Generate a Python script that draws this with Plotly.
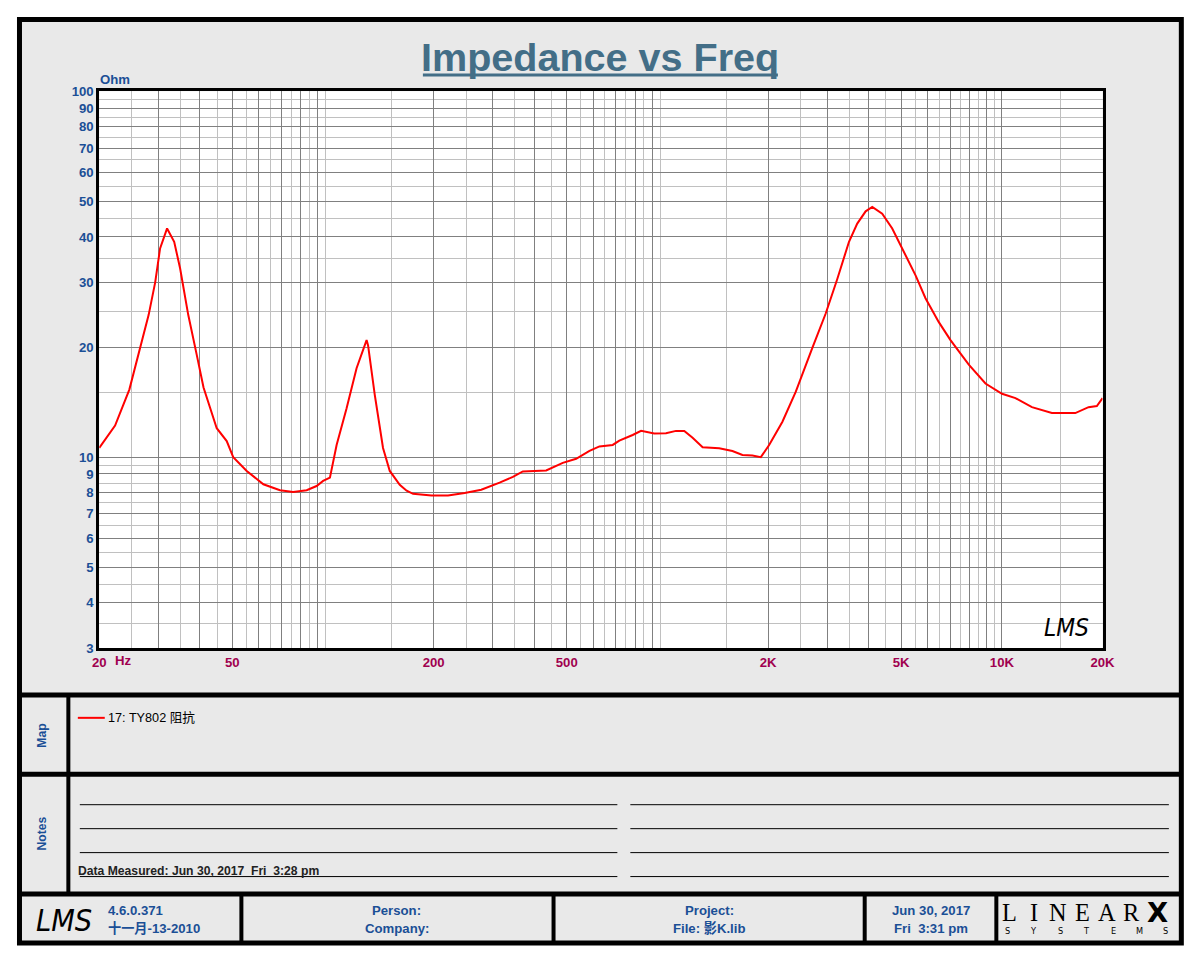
import numpy as np
import plotly.graph_objects as go

# impedance curve (Hz, Ohm)
freq_hz = [20, 22.3, 24.6, 26.5, 28.1, 29.4, 30.4, 31.9, 33.5, 34.9, 36.9, 39.1,
           41.0, 44.9, 48.1, 50.3, 55.2, 61.9, 69.4, 76.0, 83.4, 89.3, 93.4, 97.9,
           102.5, 109.8, 117.6, 126.0, 127.3, 133.3, 141.1, 147.8, 158.3, 166,
           173.5, 196.9, 220.7, 247.5, 277.5, 314.8, 345, 369.5, 433.9, 486.4,
           533.3, 584.6, 626, 686, 718, 787, 834, 913, 990, 1060, 1123, 1189,
           1274, 1428, 1564, 1676, 1795, 1902, 2014, 2207, 2420, 2712, 2973,
           3220, 3490, 3694, 3914, 4097, 4387, 4700, 5033, 5520, 5910, 6478,
           7020, 7962, 8932, 10010, 10980, 12300, 14110, 16580, 18160, 19230, 20000]
impedance_ohm = [10.6, 12.2, 15.3, 19.9, 24.5, 30.1, 37.2, 42.2, 38.8, 32.8, 24.5, 19.1,
                 15.5, 12.0, 11.07, 10.0, 9.17, 8.43, 8.12, 8.03, 8.12, 8.34, 8.61, 8.79,
                 10.8, 13.6, 17.5, 20.9, 20.2, 14.8, 10.6, 9.17, 8.4, 8.1,
                 7.94, 7.86, 7.86, 7.98, 8.15, 8.52, 8.83, 9.14, 9.2, 9.65,
                 9.9, 10.4, 10.7, 10.8, 11.1, 11.5, 11.8, 11.6, 11.63, 11.8, 11.8, 11.3,
                 10.65, 10.58, 10.4, 10.14, 10.1, 10.0, 10.8, 12.5, 15.1, 19.9, 24.7,
                 30.7, 38.8, 43.5, 47.0, 48.3, 46.3, 42.2, 37.2, 31.4, 27.2, 23.4,
                 20.9, 17.9, 15.9, 14.9, 14.5, 13.7, 13.2, 13.2, 13.7, 13.8, 14.5]

x_labels = {20: "20", 50: "50", 100: "100", 200: "200", 500: "500",
            1000: "1K", 2000: "2K", 5000: "5K", 10000: "10K", 20000: "20K"}
y_labels = [3, 4, 5, 6, 7, 8, 9, 10, 20, 30, 40, 50, 60, 70, 80, 90, 100]

# grid: dark lines at 1..9 x decade, light lines at the halves
x_major = [m * d for d in [10, 100, 1000] for m in range(2, 10)] + [10000, 20000]
x_minor = [m * d for d in [10, 100, 1000] for m in [2.5, 3.5, 4.5, 5.5, 6.5, 7.5, 8.5, 9.5]]
x_minor += [150, 1500, 15000]
y_minor = [3.5, 4.5, 5.5, 6.5, 7.5, 8.5, 9.5, 15, 25, 35, 45, 55, 65, 75, 85, 95]

W, H = 1200, 960
# the page comes out a little shrunk and shifted, so screen pixels are mapped back
S, C = 0.986, 13.0
BG = "#e9e9e9"
BLUE = "#1b4f96"
CRIMSON = "#a0004f"
FONT = "Arial, 'Liberation Sans', 'Noto Sans CJK SC', sans-serif"
HAND = "'Liberation Sans Narrow', 'DejaVu Sans Condensed', sans-serif"


def px(x):
    return (x - C) / S / W


def py(y):
    return 1 - (y - C) / S / H


fig = go.Figure()
fig.add_trace(go.Scatter(x=freq_hz, y=impedance_ohm, mode="lines",
                         line=dict(color="#ff0000", width=2), showlegend=False,
                         hoverinfo="x+y"))

shapes = []
# panel background and plot background
shapes.append(dict(type="rect", xref="paper", yref="paper", layer="below",
                   x0=px(17.5), x1=px(1182.5), y0=py(942.5), y1=py(17.5),
                   fillcolor=BG, line=dict(width=0)))
shapes.append(dict(type="rect", xref="paper", yref="paper", layer="below",
                   x0=px(97.5), x1=px(1103.5), y0=py(647.5), y1=py(89.5),
                   fillcolor="white", line=dict(width=0)))
# outer frame
shapes.append(dict(type="rect", xref="paper", yref="paper",
                   x0=px(17.5), x1=px(1182.5), y0=py(942.5), y1=py(17.5),
                   line=dict(color="black", width=5)))


def hline(y, x0, x1, w):
    shapes.append(dict(type="line", xref="paper", yref="paper",
                       x0=px(x0), x1=px(x1), y0=py(y), y1=py(y),
                       line=dict(color="black", width=w)))


def vline(x, y0, y1, w):
    shapes.append(dict(type="line", xref="paper", yref="paper",
                       x0=px(x), x1=px(x), y0=py(y0), y1=py(y1),
                       line=dict(color="black", width=w)))


hline(694, 17.5, 1182.5, 5)
hline(773.5, 17.5, 1182.5, 5)
hline(893.5, 17.5, 1182.5, 5)
vline(66.5, 694, 893.5, 4)
for xv in [240, 553, 865, 997]:
    vline(xv, 893.5, 942.5, 4)
for yv in [804, 828, 852, 876]:
    hline(yv, 78, 617, 1)
    hline(yv, 630, 1170, 1)
# title underline
shapes.append(dict(type="line", xref="paper", yref="paper",
                   x0=px(422), x1=px(778), y0=py(73), y1=py(73),
                   line=dict(color="#436e87", width=3)))
# map legend swatch
shapes.append(dict(type="line", xref="paper", yref="paper",
                   x0=px(76), x1=px(103), y0=py(717), y1=py(717),
                   line=dict(color="#ff0000", width=2)))

ann = []


def text(x, y, s, size=13, color=BLUE, bold=True, anchor="center", family=FONT,
         angle=0, italic=False):
    ann.append(dict(xref="paper", yref="paper", x=px(x), y=py(y), text=s,
                    showarrow=False, xanchor=anchor, yanchor="middle",
                    textangle=angle,
                    font=dict(family=family, size=size / S, color=color,
                              weight="bold" if bold else "normal",
                              style="italic" if italic else "normal")))


text(600, 55, "Impedance vs Freq", size=39, color="#436e87")
text(96, 78, "Ohm", anchor="left")
text(111, 660, "Hz", color=CRIMSON, anchor="left")
text(1067, 627, "LMS", size=24, color="black", bold=False, italic=True, family=HAND)

text(40, 735, "Map", size=12, angle=-90)
text(40, 833, "Notes", size=12, angle=-90)
text(104, 717, "17: TY802 阻抗", size=12.5, color="black", bold=False, anchor="left")
text(74, 870, "Data Measured: Jun 30, 2017  Fri  3:28 pm", size=12, color="#222222",
     anchor="left")

# footer
text(62, 920, "LMS", size=30, color="black", bold=False, italic=True, family=HAND)
text(104, 910, "4.6.0.371", size=13, anchor="left")
text(104, 928, "十一月-13-2010", size=13, anchor="left")
text(396, 910, "Person:", size=13)
text(396, 928, "Company:", size=13)
text(709, 910, "Project:", size=13)
text(709, 928, "File: 影K.lib", size=13)
text(931, 910, "Jun 30, 2017", size=13)
text(931, 928, "Fri  3:31 pm", size=13)
for i, ch in enumerate("LINEAR"):
    text(1010 + i * 24.5, 912, ch, size=24, color="black", bold=False,
         family="'Liberation Serif', serif")
text(1159, 912, "X", size=27, color="black", family="'DejaVu Sans', sans-serif")
for i, ch in enumerate("SYSTEMS"):
    text(1008 + i * 26.5, 931, ch, size=9, color="black", bold=False,
         family="'DejaVu Sans Condensed', sans-serif")

fig.update_layout(
    width=W, height=H,
    margin=dict(l=0, r=0, t=0, b=0),
    paper_bgcolor="white",
    plot_bgcolor="rgba(0,0,0,0)",
    shapes=shapes,
    annotations=ann,
    showlegend=False,
    xaxis=dict(
        type="log", range=[np.log10(20), np.log10(20000)],
        domain=[px(97.5), px(1103.5)],
        tickmode="array", tickvals=x_major,
        ticktext=[x_labels.get(v, "") for v in x_major],
        tickfont=dict(family=FONT, size=13 / S, color=CRIMSON, weight="bold"),
        ticks="", showgrid=True, gridcolor="#808080", gridwidth=1,
        minor=dict(tickvals=x_minor, showgrid=True, gridcolor="#c0c0c0", gridwidth=1, ticks=""),
        showline=True, linecolor="black", linewidth=3, mirror=True,
        fixedrange=True,
    ),
    yaxis=dict(
        type="log", range=[np.log10(3), 2],
        domain=[py(647.5), py(89.5)],
        tickmode="array", tickvals=y_labels,
        ticktext=[str(v) for v in y_labels],
        tickfont=dict(family=FONT, size=13 / S, color=BLUE, weight="bold"),
        ticks="", showgrid=True, gridcolor="#808080", gridwidth=1,
        minor=dict(tickvals=y_minor, showgrid=True, gridcolor="#c0c0c0", gridwidth=1, ticks=""),
        showline=True, linecolor="black", linewidth=3, mirror=True,
        fixedrange=True,
    ),
)

fig.write_html("out.html")
